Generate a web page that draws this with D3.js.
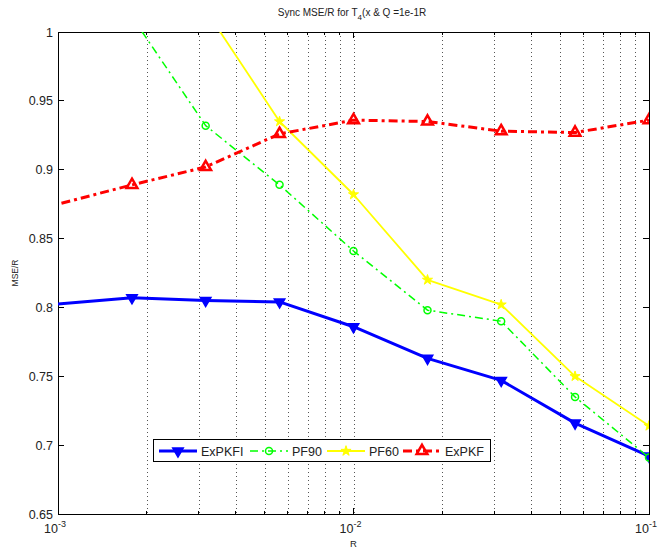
<!DOCTYPE html>
<html><head><meta charset="utf-8">
<script src="https://cdn.jsdelivr.net/npm/d3@7"></script>
<style>body{margin:0;background:#fff;}svg{display:block;font-family:"Liberation Sans",Arial,sans-serif;}</style>
</head><body><svg id="c" width="666" height="550"></svg>
<script>
// Data
const R = [0.000562, 0.00178, 0.00316, 0.00562, 0.01, 0.0178, 0.0316, 0.0562, 0.1];
const exPKFI = [0.798, 0.807, 0.805, 0.804, 0.786, 0.763, 0.747, 0.716, 0.692];
const pf90   = [null, 1.011, 0.932, 0.889, 0.841, 0.798, 0.790, 0.735, 0.691];
const pf60   = [null, null, 1.016, 0.935, 0.882, 0.820, 0.802, 0.750, 0.714];
const exPKF  = [0.861, 0.889, 0.902, 0.926, 0.936, 0.935, 0.928, 0.927, 0.936];
const seriesNames = ["ExPKFI", "PF90", "PF60", "ExPKF"];
const yTicks = [0.65, 0.7, 0.75, 0.8, 0.85, 0.9, 0.95, 1];
const yTickLabels = ["0.65", "0.7", "0.75", "0.8", "0.85", "0.9", "0.95", "1"];
const xMajor = [0.001, 0.01, 0.1];
const xMajorExp = ["-3", "-2", "-1"];

const svg = d3.select("#c");
const L = 58, Rt = 649, T = 32, B = 514;
const x = d3.scaleLog().domain([0.001, 0.1]).range([L, Rt]);
const y = d3.scaleLinear().domain([0.65, 1]).range([B, T]);

svg.append("defs").append("clipPath").attr("id", "clip")
  .append("rect").attr("x", L).attr("y", T).attr("width", Rt - L).attr("height", B - T);

// minor + major tick positions
const allTicks = [];
[0.001, 0.01].forEach(d => { for (let k = 1; k <= 9; k++) allTicks.push(d * k); });
allTicks.push(0.1);

// grid
svg.append("g").selectAll("line").data(allTicks.filter(t => t > 0.001 && t < 0.1)).join("line")
  .attr("x1", d => Math.round(x(d)) + 0.5).attr("x2", d => Math.round(x(d)) + 0.5).attr("y1", T).attr("y2", B)
  .attr("stroke", "#555").attr("stroke-width", 1).attr("stroke-dasharray", "1,3");

// axes box
svg.append("rect").attr("x", L).attr("y", T).attr("width", Rt - L).attr("height", B - T)
  .attr("fill", "none").attr("stroke", "#000").attr("stroke-width", 1).attr("shape-rendering", "crispEdges");

// x ticks (inside, bottom and top)
const xt = svg.append("g").attr("stroke", "#000").attr("shape-rendering", "crispEdges");
allTicks.forEach(t => {
  const len = xMajor.includes(t) ? 6 : 3;
  xt.append("line").attr("x1", x(t)).attr("x2", x(t)).attr("y1", B).attr("y2", B - len);
  xt.append("line").attr("x1", x(t)).attr("x2", x(t)).attr("y1", T).attr("y2", T + len);
});
// y ticks
yTicks.forEach(t => {
  xt.append("line").attr("x1", L).attr("x2", L + 6).attr("y1", y(t)).attr("y2", y(t));
  xt.append("line").attr("x1", Rt).attr("x2", Rt - 6).attr("y1", y(t)).attr("y2", y(t));
});

// y tick labels
svg.append("g").selectAll("text").data(yTicks).join("text")
  .attr("x", L - 5).attr("y", d => y(d) + 4.5).attr("text-anchor", "end")
  .attr("font-size", 12.5).attr("fill", "#222").text((d, i) => yTickLabels[i]);

// x tick labels
xMajor.forEach((t, i) => {
  const g = svg.append("text").attr("x", x(t) - 3).attr("y", 533).attr("text-anchor", "middle")
    .attr("font-size", 12.5).attr("fill", "#222");
  g.append("tspan").text("10");
  g.append("tspan").attr("dy", -6).attr("font-size", 9).text(xMajorExp[i]);
});

// axis labels & title
svg.append("text").attr("x", x(0.01)).attr("y", 547).attr("text-anchor", "middle")
  .attr("font-size", 9.5).attr("fill", "#222").text("R");
svg.append("text").attr("transform", `translate(18,${(T + B) / 2}) rotate(-90)`)
  .attr("text-anchor", "middle").attr("font-size", 8.5).attr("fill", "#222").text("MSE/R");
const title = svg.append("text").attr("x", 352).attr("y", 16).attr("text-anchor", "middle")
  .attr("font-size", 10).attr("fill", "#222");
title.append("tspan").text("Sync MSE/R for T");
title.append("tspan").attr("dy", 4).attr("font-size", 8).text("4");
title.append("tspan").attr("dy", -4).text("(x & Q =1e-1R");

// series
const series = [
  { name: seriesNames[0], vals: exPKFI, color: "#0000ff", w: 3, dash: null, marker: "tridown" },
  { name: seriesNames[1], vals: pf90, color: "#00ff00", w: 1.5, dash: "8,4,2,4", marker: "circle" },
  { name: seriesNames[2], vals: pf60, color: "#ffff00", w: 1.8, dash: null, marker: "star" },
  { name: seriesNames[3], vals: exPKF, color: "#ff0000", w: 3, dash: "9,4,3,4", marker: "triup" }
];
const plot = svg.append("g").attr("clip-path", "url(#clip)");
const line = d3.line().defined(d => d[1] != null).x(d => x(d[0])).y(d => y(d[1]));

function drawMarker(g, type, cx, cy, color) {
  if (type === "tridown") {
    g.append("path").attr("d", d3.symbol(d3.symbolTriangle, 48)())
      .attr("transform", `translate(${cx},${cy}) rotate(180)`).attr("fill", color).attr("stroke", color).attr("stroke-width", 1.5);
  } else if (type === "triup") {
    g.append("path").attr("d", d3.symbol(d3.symbolTriangle, 50)())
      .attr("transform", `translate(${cx},${cy})`).attr("fill", "none").attr("stroke", color).attr("stroke-width", 2.5);
  } else if (type === "circle") {
    g.append("circle").attr("cx", cx).attr("cy", cy).attr("r", 3.5).attr("fill", "none").attr("stroke", color).attr("stroke-width", 1.5);
  } else if (type === "star") {
    g.append("path").attr("d", d3.symbol(d3.symbolStar, 32)())
      .attr("transform", `translate(${cx},${cy})`).attr("fill", color).attr("stroke", color).attr("stroke-width", 1);
  }
}

series.forEach(s => {
  const pts = R.map((r, i) => [r, s.vals[i]]);
  plot.append("path").datum(pts).attr("d", line).attr("fill", "none")
    .attr("stroke", s.color).attr("stroke-width", s.w).attr("stroke-dasharray", s.dash)
    .attr("stroke-linejoin", "round");
  pts.forEach(p => { if (p[1] != null && p[0] >= 0.001 && p[1] <= 1) drawMarker(plot, s.marker, x(p[0]), y(p[1]), s.color); });
});

// legend
const lg = svg.append("g");
lg.append("rect").attr("x", 153).attr("y", 439.5).attr("width", 337).attr("height", 22)
  .attr("fill", "#fff").attr("stroke", "#000").attr("stroke-width", 1).attr("shape-rendering", "crispEdges");
const lx = [159, 250, 327, 403];
series.forEach((s, i) => {
  const cy = 451;
  lg.append("line").attr("x1", lx[i]).attr("x2", lx[i] + 38).attr("y1", cy).attr("y2", cy)
    .attr("stroke", s.color).attr("stroke-width", s.w).attr("stroke-dasharray", s.dash);
  drawMarker(lg, s.marker, lx[i] + 19, cy, s.color);
  lg.append("text").attr("x", lx[i] + 42).attr("y", cy + 5).attr("font-size", 12.5).attr("fill", "#222").text(s.name);
});
</script></body></html>
